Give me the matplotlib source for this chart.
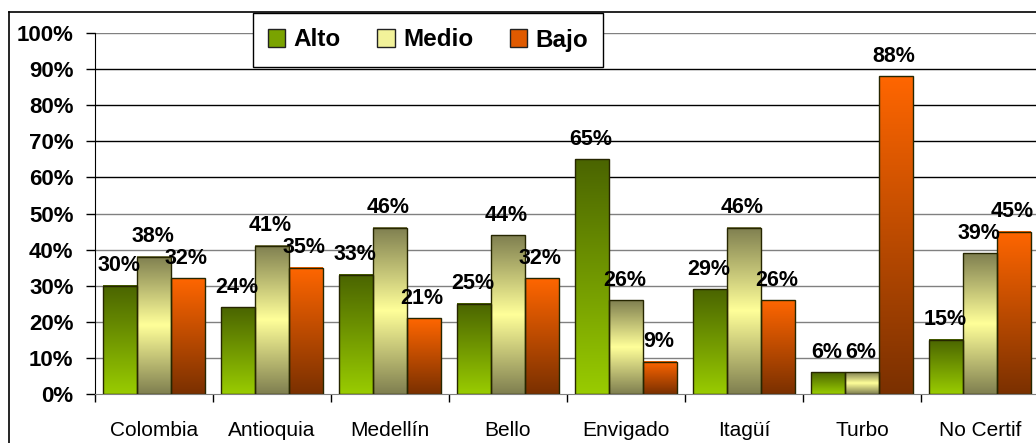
import numpy as np
import matplotlib.pyplot as plt
from matplotlib.colors import LinearSegmentedColormap
from matplotlib.patches import Patch
from matplotlib.lines import Line2D

plt.rcParams['font.family'] = ['Liberation Sans', 'DejaVu Sans']

# datos
categorias = ["Colombia", "Antioquia", "Medellín", "Bello", "Envigado", "Itagüí", "Turbo", "No Certif"]
alto = [30, 24, 33, 25, 65, 29, 6, 15]
medio = [38, 41, 46, 44, 26, 46, 6, 39]
bajo = [32, 35, 21, 32, 9, 26, 88, 45]
series = ["Alto", "Medio", "Bajo"]

# degradados (de arriba hacia abajo)
cm_alto = LinearSegmentedColormap.from_list("alto", ["#4a6400", "#99cc00"])
cm_medio = LinearSegmentedColormap.from_list("medio", ["#7f7f50", "#ffff99", "#7f7f50"])
cm_bajo = LinearSegmentedColormap.from_list("bajo", ["#ff6600", "#7a3000"])
mapas = [cm_alto, cm_medio, cm_bajo]
colores_leyenda = ["#7aa300", "#f2f29a", "#e05a00"]

W, H = 1036, 443
fig = plt.figure(figsize=(W / 100, H / 100), dpi=100)
ax = fig.add_axes([95 / W, 49 / H, 944 / W, 361 / H])

x = np.arange(len(categorias))
w = 0.2856
grad = np.linspace(0, 1, 256).reshape(-1, 1)

for i, (vals, cmap) in enumerate(zip([alto, medio, bajo], mapas)):
    xs = x + (i - 1) * w
    for xi, v in zip(xs, vals):
        ax.imshow(grad, extent=[xi - w / 2, xi + w / 2, 0, v], origin='upper',
                  aspect='auto', cmap=cmap, interpolation='bilinear', zorder=2)
        ax.annotate(f"{v}%", (xi, v), xytext=(-1, 10.5), textcoords='offset points',
                    ha='center', va='baseline', fontsize=15.5, fontweight='bold', zorder=5)
    ax.bar(xs, vals, w, facecolor='none', edgecolor='#262600', linewidth=1, zorder=3)

ax.set_xlim(-0.5, 7.5)
ax.set_ylim(0, 100)

# lineas de la grilla
for v in range(10, 101, 10):
    c = 'black' if 60 <= v <= 90 else '#808080'
    ax.axhline(v, color=c, linewidth=1, zorder=1)

for s in ['top', 'right']:
    ax.spines[s].set_visible(False)
ax.spines['left'].set_color('black')
ax.spines['bottom'].set_color('#808080')

ax.set_yticks(range(0, 101, 10))
ax.set_yticklabels([f"{v}%" for v in range(0, 101, 10)], fontsize=16, fontweight='bold')
ax.tick_params(axis='y', direction='out', length=6.5, width=1, pad=9)

ax.set_xticks(x)
ax.set_xticklabels(categorias, fontsize=15)
ax.set_xticks(np.arange(-0.5, 8, 1), minor=True)
ax.tick_params(axis='x', which='major', length=0, pad=19.5)
ax.tick_params(axis='x', which='minor', direction='out', length=5.8, width=1)

# marco exterior
fig.add_artist(Line2D([9 / W, 9 / W], [0, 431 / H], color='black', linewidth=1.2))
fig.add_artist(Line2D([9 / W, 1], [431 / H, 431 / H], color='black', linewidth=1.2))

handles = [Patch(facecolor=c, edgecolor='#222222') for c in colores_leyenda]
fig.legend(handles, series, loc='center', ncol=3,
           bbox_to_anchor=(428 / W, (443 - 40) / H),
           prop={'size': 17.5, 'weight': 'bold'},
           handlelength=0.72, handleheight=0.72, handletextpad=0.34,
           columnspacing=1.5, borderpad=0.62,
           fancybox=False, framealpha=1, edgecolor='black')

fig.savefig("out.png", dpi=100)
